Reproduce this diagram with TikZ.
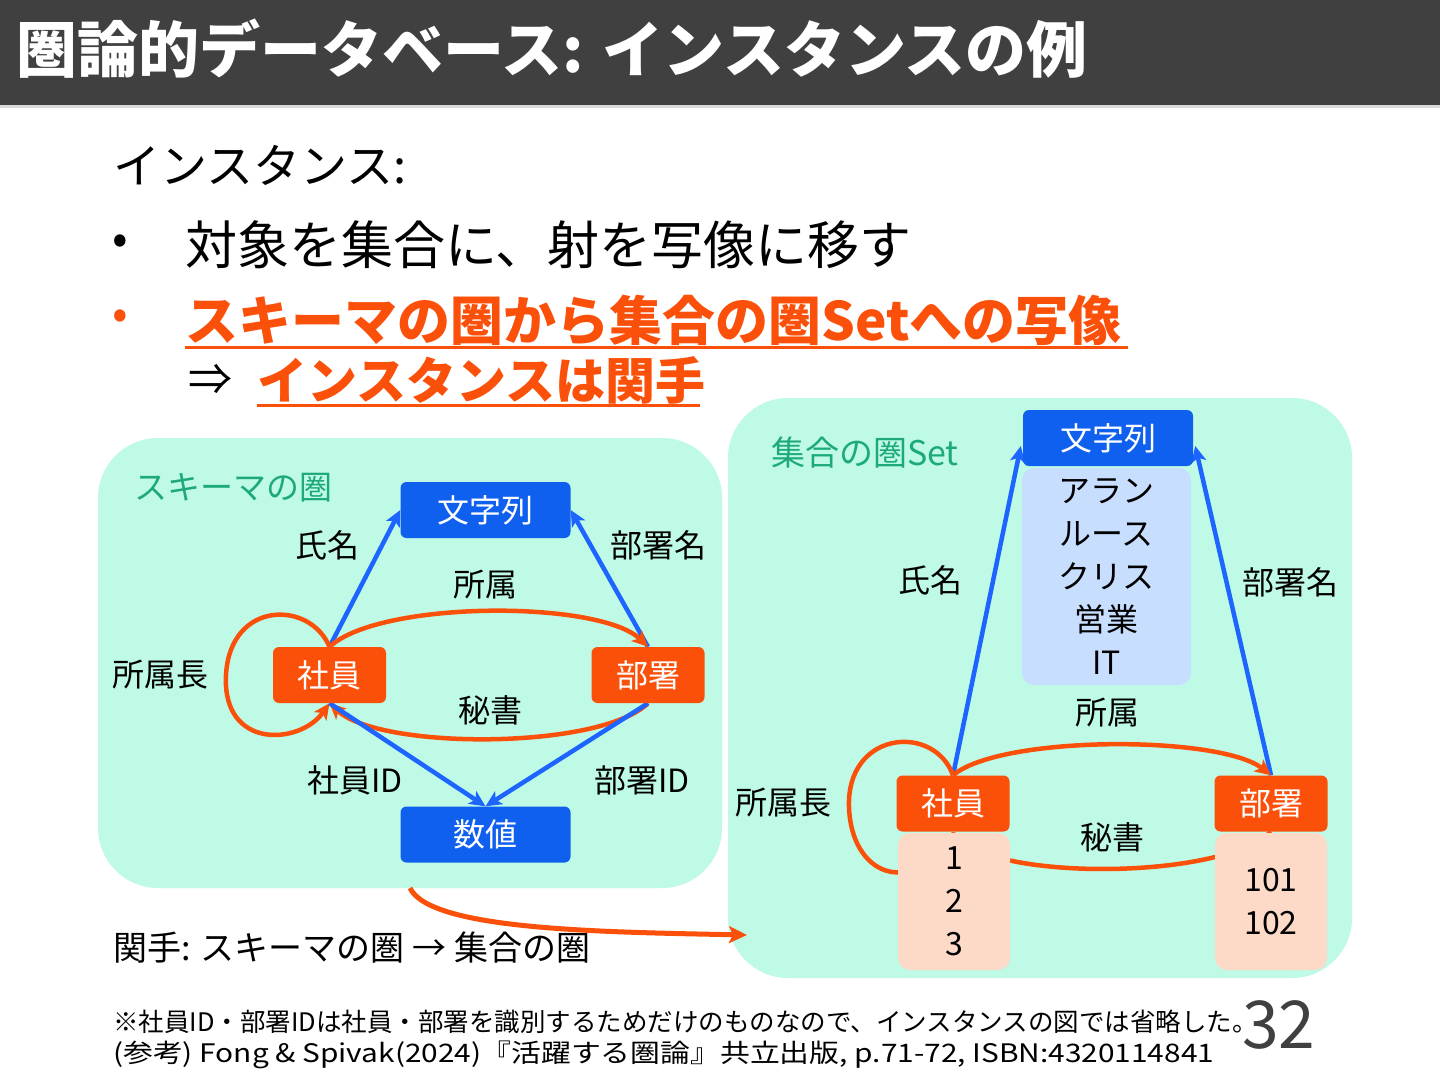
\documentclass[tikz,border=0pt]{standalone}
\usepackage{fontspec}
\setmainfont{Noto Sans CJK JP}
\usetikzlibrary{arrows.meta,calc}
\definecolor{titlebg}{RGB}{64,64,64}
\definecolor{mint}{RGB}{190,250,230}
\definecolor{tealtxt}{RGB}{30,170,120}
\definecolor{nblue}{RGB}{16,96,240}
\definecolor{ablue}{RGB}{30,100,255}
\definecolor{norange}{RGB}{250,80,10}
\definecolor{lblue}{RGB}{200,222,255}
\definecolor{peach}{RGB}{253,218,200}
\newcommand\myfs[2]{\fontsize{#1}{#2}\selectfont}
\pgfdeclarelayer{bg}
\pgfdeclarelayer{edges}
\pgfsetlayers{bg,edges,main}
\begin{document}
\begin{tikzpicture}[x=1pt,y=-1pt,
  box/.style={rounded corners=6pt, minimum height=56pt, text=white, font=\myfs{32}{38}, inner sep=0pt},
  bluebox/.style={box, fill=nblue, minimum width=170pt},
  orbox/.style={box, fill=norange, minimum width=113pt},
  valbox/.style={rounded corners=12pt, inner sep=0pt, font=\myfs{32}{43}, align=center, text=black},
  lbl/.style={font=\myfs{32}{38}, text=black, inner sep=0pt},
  txt/.style={anchor=west, inner sep=0pt},
  barr/.style={draw=ablue, line width=4.5pt, -{Stealth[length=16pt,width=15pt,inset=4pt]}},
  oarr/.style={draw=norange, line width=4.5pt, -{Stealth[length=16pt,width=15pt,inset=4pt]}},
  panel/.style={fill=mint, rounded corners=60pt}
]
\useasboundingbox (0,0) rectangle (1440,1080);
\begin{pgfonlayer}{bg}
\fill[white] (0,0) rectangle (1440,1080);
\fill[titlebg] (0,0) rectangle (1440,105);
\fill[black!15] (0,105) rectangle (1440,108);
\fill[panel] (98,438) rectangle (722,888);
\fill[panel] (728,398) rectangle (1352,978);
\end{pgfonlayer}

% title and text
\node[txt, text=white, font=\bfseries\myfs{61}{64}] (title) at (16,49) {圏論的データベース: インスタンスの例};
\node[txt, font=\myfs{47}{50}] (inst) at (113,165) {インスタンス:};
\node[txt, font=\myfs{46}{50}] (b1) at (112,245) {•};
\node[txt, font=\myfs{52}{54}] (l1) at (185,245) {対象を集合に、射を写像に移す};
\node[txt, font=\myfs{46}{50}, text=norange] (b2) at (112,320) {•};
\node[txt, font=\bfseries\myfs{53}{56}, text=norange] (l2) at (185,320) {スキーマの圏から集合の圏Setへの写像};
\draw[norange, line width=3pt] (185,347) -- (1128,347);
\node[txt, font=\myfs{44}{50}] (imp) at (188,380) {⇒};
\node[txt, font=\bfseries\myfs{50}{54}, text=norange] (l3) at (257,380) {インスタンスは関手};
\draw[norange, line width=3pt] (257,405) -- (700,405);

% left panel
\node[txt, font=\myfs{33}{38}, text=tealtxt] (lt) at (134,488) {スキーマの圏};
\node[bluebox] (mjL) at (485.5,510) {文字列};
\node[orbox] (syL) at (329.5,675) {社員};
\node[orbox] (bsL) at (648,675) {部署};
\node[bluebox] (suL) at (485.5,834.5) {数値};
\node[lbl] at (327,545) {氏名};
\node[lbl] at (658,545) {部署名};
\node[lbl] at (485,585) {所属};
\node[lbl] at (490,710) {秘書};
\node[lbl] at (160,675) {所属長};
\node[lbl] at (355,780) {社員ID};
\node[lbl] at (642,780) {部署ID};

% right panel
\node[txt, font=\myfs{34}{38}, text=tealtxt] (rt) at (771,453) {集合の圏Set};
\node[bluebox] (mjR) at (1108,438) {文字列};
\node[valbox, fill=lblue, minimum width=169pt, minimum height=217pt] (strR) at (1106.5,576.5) {アラン\\ルース\\クリス\\営業\\IT};
\node[orbox] (syR) at (953,803.5) {社員};
\node[orbox] (bsR) at (1271,803.5) {部署};
\node[valbox, fill=peach, minimum width=112pt, minimum height=137pt] (syvR) at (954,901.5) {1\\2\\3};
\node[valbox, fill=peach, minimum width=112pt, minimum height=137pt] (bsvR) at (1271,901.5) {101\\102};
\node[lbl] at (930,580) {氏名};
\node[lbl] at (1290,582) {部署名};
\node[lbl] at (1107,713) {所属};
\node[lbl] at (1112,837) {秘書};
\node[lbl] at (783,803) {所属長};

% functor label
\node[txt, font=\myfs{34}{38}] (fl) at (113,948) {関手: スキーマの圏 → 集合の圏};

% footnotes
\node[txt, font=\myfs{25.5}{28}] (fn1) at (113,1022) {※社員ID・部署IDは社員・部署を識別するためだけのものなので、インスタンスの図では省略した。};
\node[txt, font=\myfs{25.5}{28}] (fn2) at (113,1055) {\scalebox{1.17}[1]{(参考) Fong \& Spivak(2024)『活躍する圏論』共立出版, p.71-72, ISBN:4320114841}};
\node[txt, font=\myfs{66}{70}, text=titlebg] (pg) at (1242,1025) {32};

\coordinate (fs) at (410,888);
\coordinate (fe) at (747,935);

\begin{pgfonlayer}{edges}
% left
\draw[barr] (syL.north) -- (mjL.west);
\draw[barr] (bsL.north) -- (mjL.east);
\draw[oarr] (syL.north) .. controls (380,600) and (600,600) .. (bsL.north);
\draw[oarr] (bsL.south) .. controls (600,750) and (380,750) .. (syL.south);
\draw[oarr] (syL.north) .. controls (310,600) and (230,600) .. (226,675) .. controls (222,750) and (300,745) .. (syL.south);
\draw[barr] (syL.south) -- (suL.north);
\draw[barr] (bsL.south) -- (suL.north);
% right
\draw[barr] (syR.north) -- ($(mjR.west)+(-2,8)$);
\draw[barr] (bsR.north) -- ($(mjR.east)+(2,8)$);
\draw[oarr] (syR.north) .. controls (1000,735) and (1220,735) .. (bsR.north);
\draw[oarr] (bsR.south) .. controls (1220,880) and (1000,880) .. (syR.south);
\draw[oarr] (syR.north) .. controls (935,725) and (852,730) .. (849,800) .. controls (847,870) and (905,900) .. (syR.south);
\end{pgfonlayer}
\draw[norange, line width=5pt, -{Stealth[length=18pt,width=17pt,inset=4pt]}] (fs) .. controls (430,930) and (600,932) .. (fe);
\end{tikzpicture}
\end{document}
